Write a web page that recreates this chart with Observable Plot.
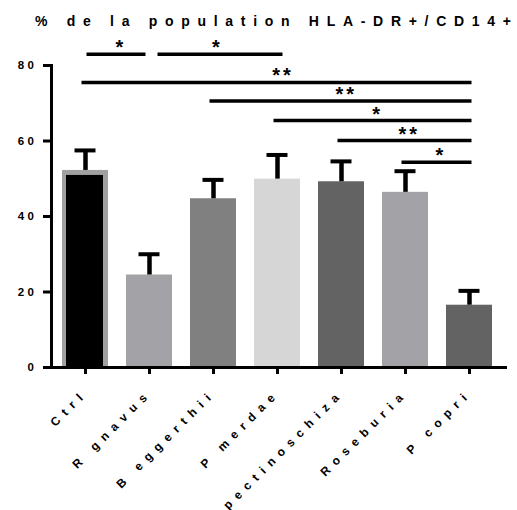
<!DOCTYPE html>
<html>
<head>
<meta charset="utf-8">
<script src="https://cdn.jsdelivr.net/npm/d3@7"></script>
<script src="https://cdn.jsdelivr.net/npm/@observablehq/plot@0.6"></script>
<style>
  html, body { margin: 0; padding: 0; background: #fff; width: 517px; height: 510px; overflow: hidden; }
  #title { position: relative; height: 40px; }
  #title span.t { position: absolute; left: 35px; top: 14px; font: bold 14px "Liberation Sans", Arial, sans-serif; line-height: 14px; letter-spacing: 7.7px; white-space: nowrap; color: #000; }
  #title span.last { letter-spacing: 0; }
  #chart svg { display: block; overflow: visible; }
  #chart g[aria-label="y-axis tick label"] text { letter-spacing: 3.5px; }
  #chart g[aria-label="x-axis tick label"] text { letter-spacing: 6.5px; }
  #chart .stars text { letter-spacing: 3px; }
</style>
</head>
<body>
<div id="title"><span class="t">% de la population HLA-DR+/CD14<span class="last">+</span></span></div>
<div id="chart"></div>
<script>
// ---- data ----
const categories = ["Ctrl", "R gnavus", "B eggerthii", "P merdae", "L. pectinoschiza", "Roseburia", "P copri"];
const means  = [52.2, 24.5, 44.7, 49.9, 49.2, 46.4, 16.5];
const errors = [5.3, 5.5, 5.0, 6.4, 5.4, 5.6, 3.8];
const colors = ["#a0a0a0", "#a3a3a7", "#808080", "#d6d6d6", "#636363", "#a3a3a7", "#636363"];
const yTicks = [0, 20, 40, 60, 80];

const sigFrom  = ["Ctrl", "R gnavus", "Ctrl", "B eggerthii", "P merdae", "L. pectinoschiza", "Roseburia"];
const sigTo    = ["R gnavus", "P merdae", "P copri", "P copri", "P copri", "P copri", "P copri"];
const sigY     = [83, 83, 75.5, 70.6, 65.4, 60.1, 54.4];
const sigLabel = ["*", "*", "**", "**", "*", "**", "*"];

// ---- layout ----
const W = 517, H = 470;
const mL = 51, mR = 13, mT = 25, mB = 143;
const xOpts = {domain: categories, paddingInner: 0.275, paddingOuter: 0.131};
const xs = Plot.scale({x: {type: "band", ...xOpts, range: [mL, W - mR]}});
const bw = xs.bandwidth;

const rows = categories.map((c, i) => ({cat: c, mean: means[i], err: errors[i], color: colors[i]}));
const sig = sigFrom.map((f, i) => ({from: f, to: sigTo[i], y: sigY[i], label: sigLabel[i],
  half: (xs.apply(sigTo[i]) - xs.apply(f)) / 2}));

// line end adjustments (style, px relative to band centres)
const lineInset = (i) => i === 0 ? [bw / 2 + 1, bw / 2 + 3]
  : i === 1 ? [bw / 2 + 8, bw / 2 - 6]
  : [bw / 2 - 4, bw / 2 - 3];

const capInset = (bw - 22) / 2;

const plot = Plot.plot({
  width: W, height: H,
  marginLeft: mL, marginRight: mR, marginTop: mT, marginBottom: mB,
  style: {fontFamily: "'Liberation Sans', Arial, sans-serif", background: "transparent"},
  x: {...xOpts, label: null},
  y: {domain: [0, 80], label: null},
  marks: [
    Plot.barY(rows, {x: "cat", y: "mean", fill: "color"}),
    Plot.barY(rows.filter(d => d.cat === "Ctrl"), {x: "cat", y: "mean", fill: "#000", insetLeft: 4, insetRight: 5, insetTop: 5}),
    Plot.ruleX(rows, {x: "cat", y1: "mean", y2: d => d.mean + d.err, stroke: "#000", strokeWidth: 4.5}),
    Plot.tickY(rows, {x: "cat", y: d => d.mean + d.err, stroke: "#000", strokeWidth: 4, insetLeft: capInset, insetRight: capInset}),
    ...sig.map((d, i) => {
      const [l, r] = lineInset(i);
      return Plot.ruleY([d], {x1: "from", x2: "to", y: "y", stroke: "#000", strokeWidth: 3.5, insetLeft: l, insetRight: r});
    }),
    ...sig.map((d) => Plot.text([d], {x: "from", y: "y", text: "label", dx: d.half + 3, dy: 0, lineAnchor: "bottom",
      fontSize: 20, fontWeight: "bold", className: "stars"})),
    Plot.frame({anchor: "left", strokeWidth: 3}),
    Plot.ruleY([0], {strokeWidth: 3, insetRight: -3}),
    Plot.axisY({ticks: yTicks, tickSize: 8, tickPadding: 6, strokeWidth: 3, fontSize: 11.5, fontWeight: "bold", label: null}),
    Plot.axisX({tickSize: 7, strokeWidth: 3, tickRotate: -45, tickPadding: 17, fontSize: 12, fontWeight: "bold", label: null})
  ]
});
document.getElementById("chart").appendChild(plot);
</script>
</body>
</html>
